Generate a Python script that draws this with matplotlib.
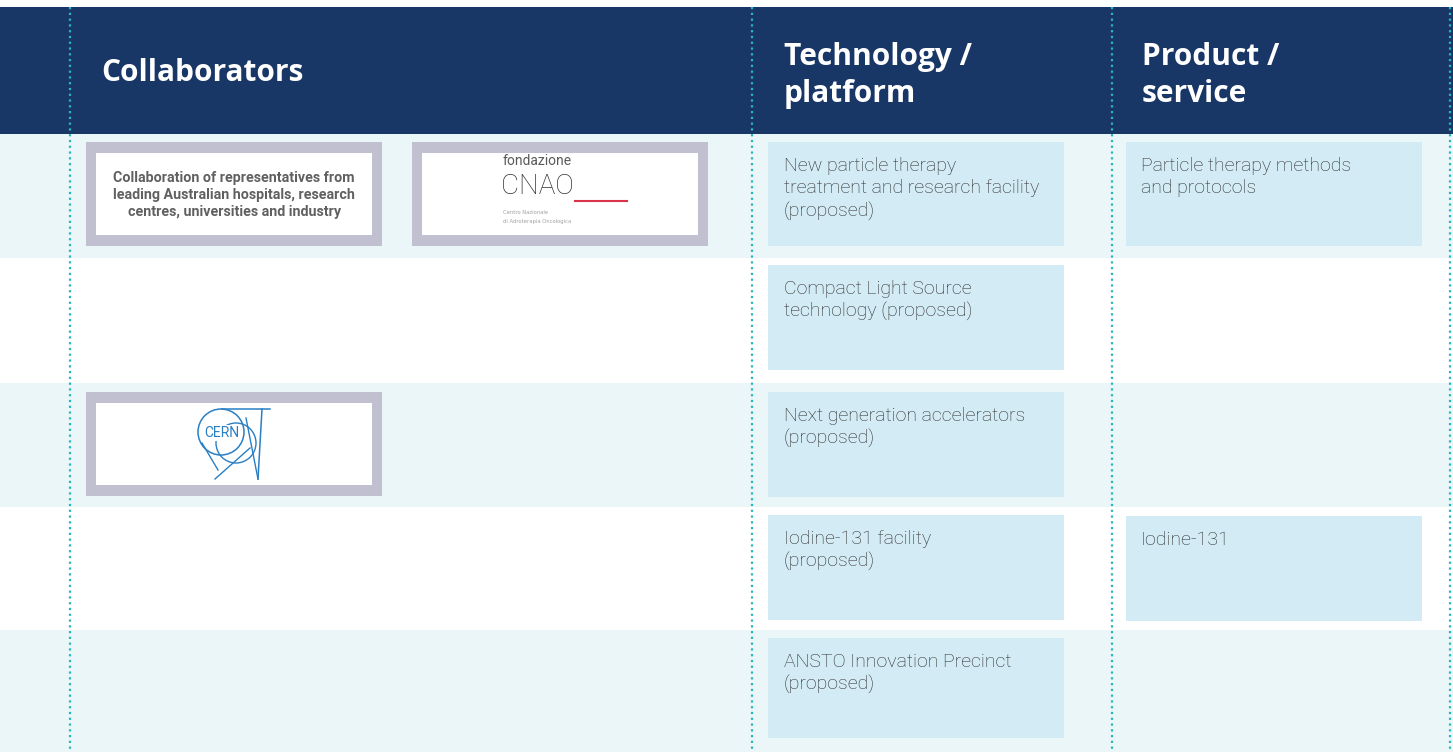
import matplotlib
matplotlib.use("Agg")
import matplotlib.pyplot as plt
from matplotlib.patches import Rectangle, Circle

# ---------------- data ----------------
headers = ["Collaborators", "Technology /\nplatform", "Product /\nservice"]
tech_items = [
    "New particle therapy\ntreatment and research facility\n(proposed)",
    "Compact Light Source\ntechnology (proposed)",
    "Next generation accelerators\n(proposed)",
    "Iodine-131 facility\n(proposed)",
    "ANSTO Innovation Precinct\n(proposed)",
]
product_items = ["Particle therapy methods\nand protocols", None, None, "Iodine-131", None]
collab_text = "Collaboration of representatives from\nleading Australian hospitals, research\ncentres, universities and industry"

# ---------------- style ----------------
W, H = 1453, 752
NAVY = "#183767"
LIGHT_ROW = "#eaf6f7"
BOX = "#d3ebf4"
GRAY = "#c1c0d1"
TEAL = "#2ab7bb"
TXT = "#2c2c2c"
BODY_FONT = dict(family="Roboto", fontweight="light", fontsize=14)

fig = plt.figure(figsize=(W / 100, H / 100), dpi=100)
ax = fig.add_axes([0, 0, 1, 1])
ax.set_xlim(0, W)
ax.set_ylim(H, 0)
ax.axis("off")

header_top, header_bot = 7, 134
row_tops = [134, 258, 383, 507, 630, 752]
col_lines = [70, 752, 1112, 1450]

# header
ax.add_patch(Rectangle((0, header_top), W, header_bot - header_top, color=NAVY, lw=0))
hx = [101, 784, 1142]
for x, t in zip(hx, headers):
    ax.text(x, 73 if "\n" not in t else 75.5, t, color="white", fontsize=21.5,
            fontweight="bold", family="Open Sans", va="center", ha="left", linespacing=1.3)

# rows
for i in range(5):
    y0, y1 = row_tops[i], row_tops[i + 1]
    if i % 2 == 0:
        ax.add_patch(Rectangle((0, y0), W, y1 - y0, color=LIGHT_ROW, lw=0))

# boxes
box_off_top = [8, 7, 9, 8, 8]
box_h = [104, 105, 105, 105, 100]
for i, t in enumerate(tech_items):
    top = row_tops[i] + box_off_top[i]
    ax.add_patch(Rectangle((768, top), 296, box_h[i], color=BOX, lw=0))
    ax.text(784, top + 15, t, color=TXT, va="top", ha="left", linespacing=1.3, **BODY_FONT)
    p = product_items[i]
    if p:
        ptop = top + (1 if i == 3 else 0)
        ax.add_patch(Rectangle((1126, ptop), 296, box_h[i], color=BOX, lw=0))
        ax.text(1141, ptop + 15, p, color=TXT, va="top", ha="left", linespacing=1.3, **BODY_FONT)


def logo_frame(x0, y0):
    ax.add_patch(Rectangle((x0, y0), 296, 104, color=GRAY, lw=0))
    ax.add_patch(Rectangle((x0 + 10, y0 + 11), 276, 82, color="white", lw=0))


# collaborator row 1
logo_frame(86, 142)
ax.text(234, 195, collab_text, color="#606060", fontsize=10.3, fontweight="bold",
        family="Roboto", ha="center", va="center", linespacing=1.25)

# CNAO logo
logo_frame(412, 142)
ax.text(503, 165, "fondazione", color="#5a5a5a", fontsize=10, family="Roboto",
        ha="left", va="baseline")
ax.text(501, 194, "CNAO", color="#333333", fontsize=20, family="Roboto",
        fontweight="light", ha="left", va="baseline")
ax.plot([575, 627], [201, 201], color="#d9324a", lw=1.5)
ax.text(503, 213, "Centro Nazionale", color="#a0a0a0", fontsize=3.8, ha="left", va="center")
ax.text(503, 222, "di Adroterapia Oncologica", color="#a0a0a0", fontsize=3.8, ha="left", va="center")

# CERN logo row 3
logo_frame(86, 392)
CB = "#2a7fc4"
ax.add_patch(Circle((221, 432), 23, fill=False, ec=CB, lw=1.1))
ax.add_patch(Circle((236, 443), 20, fill=False, ec=CB, lw=1.0))
ax.plot([222, 270], [409, 409], color=CB, lw=1.1)
ax.plot([262, 258], [409, 479], color=CB, lw=1.1)
ax.plot([246, 258], [418, 479], color=CB, lw=1.0)
ax.plot([250, 215], [448, 479], color=CB, lw=1.0)
ax.plot([202, 218], [443, 470], color=CB, lw=1.0)
ax.text(222, 433, "CERN", color=CB, fontsize=10, family="Roboto",
        ha="center", va="center",
        bbox=dict(boxstyle="square,pad=0.05", fc="white", ec="none"))

# dotted column lines
for x in col_lines:
    ax.plot([x, x], [header_top, H], color=TEAL, lw=1.6, ls=(0, (1, 1.6)))

fig.savefig("out.png", dpi=100)
